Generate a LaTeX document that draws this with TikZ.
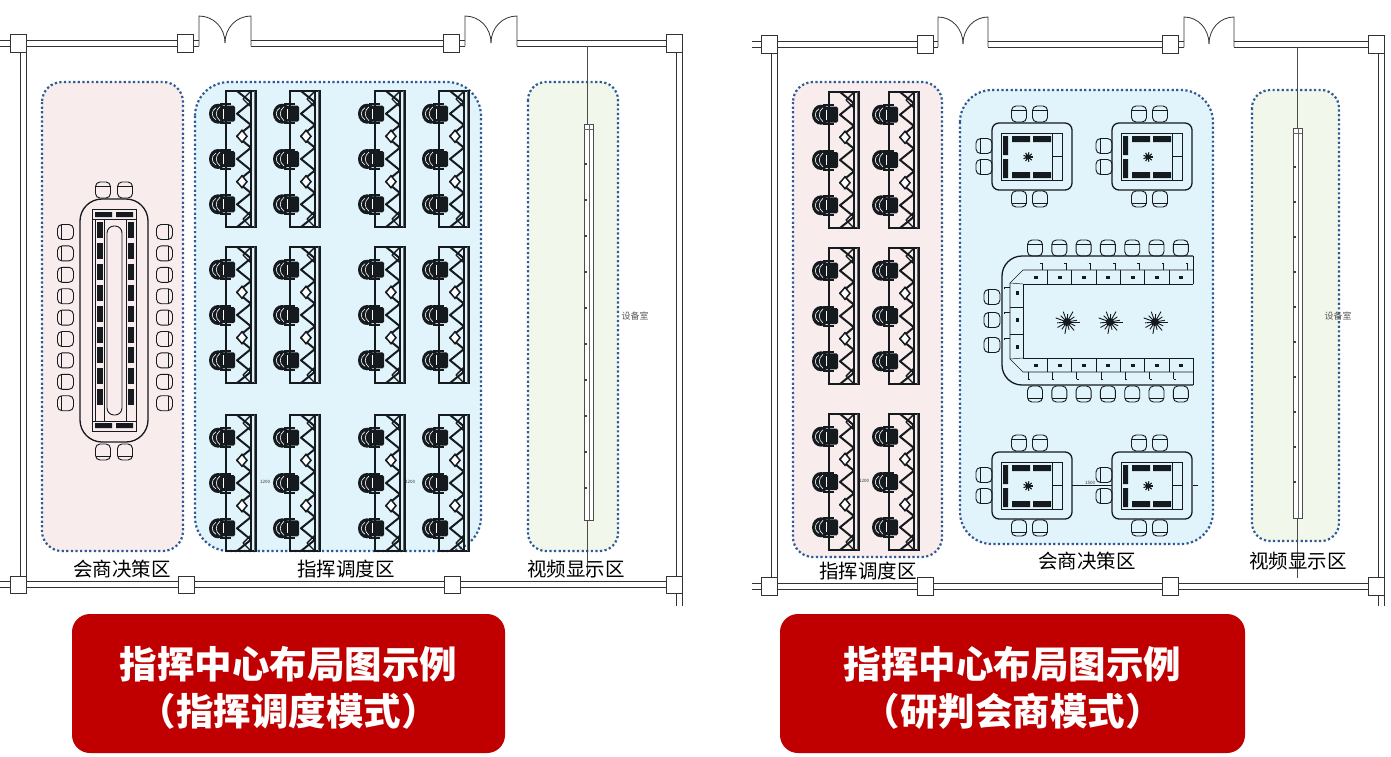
\documentclass[tikz,border=0pt]{standalone}
\usepackage{fontspec}
\newfontfamily\cjk{Noto Sans CJK SC}
\definecolor{zpink}{HTML}{F9ECEC}
\definecolor{zblue}{HTML}{E2F4FB}
\definecolor{zgreen}{HTML}{F1F7EB}
\definecolor{zdot}{HTML}{2F5A96}
\definecolor{bred}{HTML}{C00000}
\definecolor{ink}{HTML}{141A1E}
\tikzset{
  wl/.style={line width=0.8pt, draw=black!80},
  zone/.style={draw=zdot, line width=2.2pt, dash pattern=on 2.2pt off 2.4pt},
  zlabel/.style={font=\cjk\fontsize{19.5}{20}\selectfont, inner sep=0pt},
  tinylbl/.style={font=\cjk\fontsize{4.5}{5}\selectfont, inner sep=0pt, text=black!80},
  roomlbl/.style={font=\cjk\fontsize{9}{10}\selectfont, inner sep=0pt, text=black!65},
  btext/.style={text=white, align=center, font=\cjk\bfseries\fontsize{37.5}{47}\selectfont, inner sep=0pt},
  banner/.style={fill=bred, rounded corners=18pt, inner sep=0pt},
  door/.pic={
    \draw[wl] (0,3) -- (0,-27) .. controls (14.4,-27) and (26,-15.4) .. (26,0);
    \draw[wl] (52,3) -- (52,-27) .. controls (37.6,-27) and (26,-15.4) .. (26,0);
  },
  chairO/.pic={
    \draw[line width=0.9pt, draw=ink, rounded corners=4.5pt] (-7.5,-8) rectangle (7.5,8);
    \draw[line width=0.6pt, draw=ink] (-7.5,-4) -- (7.5,-4);
  },
  ochair/.pic={
    \fill[ink] (-8,0) ellipse (9 and 10);
    \draw[white, line width=0.6pt] (-10,-6) .. controls (-15,-3) and (-15,3) .. (-10,6);
    \draw[white, line width=0.6pt] (-6,-7) .. controls (-11,-3) and (-11,3) .. (-6,7);
    \fill[ink, rounded corners=1.5pt] (-4,-8) rectangle (9,8);
    \fill[ink] (-6,-10.5) rectangle (5,-8.5);
    \fill[ink] (-6,8.5) rectangle (5,10.5);
    \draw[white, line width=0.5pt] (-3,-5) -- (-3,5);
  },
  deskunit/.pic={
    \draw[line width=1.1pt, draw=ink] (0,0) rectangle (30,136);
    \draw[line width=2pt, draw=ink, line join=round] (11,0) -- (25,11.3) -- (11,22.7) -- (25,34) -- (11,45.3) -- (25,56.7) -- (11,68) -- (25,79.3) -- (11,90.7) -- (25,102) -- (11,113.3) -- (25,124.7) -- (11,136);
    \draw[line width=1.4pt, draw=ink, line join=round] (25,0) -- (17,8) -- (25,16) (25,120) -- (17,128) -- (25,136);
    \draw[line width=2pt, draw=ink] (25,0) -- (25,136) (11,0) -- (25,0) (11,136) -- (25,136);
    \draw[line width=0.6pt, draw=black!60] (28,0) -- (28,136);
    \foreach \d in {45.3,90.7} \filldraw[fill=white, draw=ink, line width=1.5pt] (16,\d-6) -- (21,\d) -- (16,\d+6) -- (11,\d) -- cycle;
    \foreach \c in {22.7,68,113.3} \path (0,\c) pic {ochair};
  },
  plantS/.pic={
    \foreach \a in {0,40,...,320} \draw[ink, line width=1.1pt] (0,0) -- (\a:4.8);
    \fill[ink] (0,0) circle (2.6);
  },
  plantL/.pic={
    \foreach \a/\rr in {0/13,25/9,50/11,75/8,100/12,125/9,150/11,175/10,200/12,225/9,250/11,275/8,300/12,325/9,350/10}
      \draw[ink, line width=0.9pt] (0,0) -- (\a:\rr);
    \fill[ink] (0,0) circle (4);
  },
  sqtable/.pic={
    \draw[line width=1.3pt, draw=ink, rounded corners=7pt] (0,0) rectangle (80,67);
    \draw[line width=0.7pt, draw=ink] (9,10) rectangle (70,57);
    \draw[line width=0.5pt, draw=ink] (60,10) -- (60,57) (60,33.5) -- (70,33.5);
    \fill[ink] (11,13) rectangle (16,32) (11,36) rectangle (16,55);
    \fill[ink] (20,13) rectangle (38,19) (41,13) rectangle (59,19);
    \fill[ink] (20,49) rectangle (38,55) (41,49) rectangle (59,55);
    \path (36,34) pic {plantS};
    \path (27,-9) pic {chairO};
    \path (48,-9) pic {chairO};
    \path (27,76) pic[rotate=180] {chairO};
    \path (48,76) pic[rotate=180] {chairO};
    \path (-8,23) pic[rotate=90] {chairO};
    \path (-8,44) pic[rotate=90] {chairO};
  },
}
\begin{document}
\begin{tikzpicture}[x=1pt,y=-1pt]
\useasboundingbox (0,0) rectangle (1391,756);
\fill[white] (0,0) rectangle (1391,756);

% ---------------- zones
\filldraw[zone, fill=zpink, rounded corners=20pt] (42,82) rectangle (183,551);
\filldraw[zone, fill=zblue, rounded corners=34pt] (195,82) rectangle (481,551);
\filldraw[zone, fill=zgreen, rounded corners=18pt] (528,82) rectangle (618,551);
\filldraw[zone, fill=zpink, rounded corners=20pt] (793,82) rectangle (942,557);
\filldraw[zone, fill=zblue, rounded corners=32pt] (960,90) rectangle (1213,544);
\filldraw[zone, fill=zgreen, rounded corners=18pt] (1252,90) rectangle (1339,541);

% ---------------- left panel walls
\draw[wl] (0,40) -- (199,40) (0,46) -- (199,46);
\draw[wl] (251,40) -- (465,40) (251,46) -- (465,46);
\draw[wl] (517,40) -- (682,40) (517,46) -- (682,46);
\path (199,43) pic {door};
\path (465,43) pic {door};
\draw[wl] (20,52) -- (20,577) (26,52) -- (26,577);
\draw[wl] (676,52) -- (676,606) (682,52) -- (682,606);
\draw[wl] (0,581) -- (682,581) (0,587) -- (682,587);
\foreach \x in {18,185,451,674} \filldraw[wl, fill=white] (\x-8,34) rectangle (\x+8,52);
\foreach \x in {18,186,452,674} \filldraw[wl, fill=white] (\x-8,576) rectangle (\x+8,593);

% ---------------- right panel walls
\draw[wl] (752,41) -- (938,41) (752,47) -- (938,47);
\draw[wl] (988,41) -- (1184,41) (988,47) -- (1184,47);
\draw[wl] (1234,41) -- (1384,41) (1234,47) -- (1384,47);
\path (938,44) pic[xscale=0.9615] {door};
\path (1184,44) pic[xscale=0.9615] {door};
\draw[wl] (771,53) -- (771,578) (777,53) -- (777,578);
\draw[wl] (1378,53) -- (1378,606) (1384,53) -- (1384,606);
\draw[wl] (752,583) -- (1384,583) (752,589) -- (1384,589);
\foreach \x in {769,925,1170,1376} \filldraw[wl, fill=white] (\x-8,35) rectangle (\x+8,53);
\foreach \x in {769,925,1170,1376} \filldraw[wl, fill=white] (\x-8,577) rectangle (\x+8,595);

% ---------------- screens
\draw[line width=0.7pt, draw=black!70] (587,46) -- (587,577);
\filldraw[line width=0.7pt, draw=black!70, fill=white] (584,124) rectangle (593,520);
\draw[line width=0.5pt, draw=black!60] (589,124) -- (589,520) (584,129) -- (593,129);
\foreach \y in {163,199,...,487} \fill[black!75] (584,\y) rectangle (586.5,\y+2);
\node[roomlbl] (roomL) at (635,316) {设备室};

\draw[line width=0.7pt, draw=black!70] (1297,47) -- (1297,578);
\filldraw[line width=0.7pt, draw=black!70, fill=white] (1293,128) rectangle (1302,518);
\draw[line width=0.5pt, draw=black!60] (1298.5,128) -- (1298.5,518) (1293,133) -- (1302,133);
\foreach \y in {166,201,...,490} \fill[black!75] (1293,\y) rectangle (1295.5,\y+2);
\node[roomlbl] (roomR) at (1338,316) {设备室};

% ---------------- left conference table
\draw[line width=1.3pt, draw=ink, rounded corners=22pt] (80,199) rectangle (148,442);
\draw[line width=0.8pt, draw=ink] (92,209) rectangle (136,431);
\draw[line width=0.5pt, draw=ink] (92,219) -- (136,219) (92,421) -- (136,421);
\fill[ink] (95,212) rectangle (112,217) (116,212) rectangle (133,217) (95,423) rectangle (112,428) (116,423) rectangle (133,428);
\draw[line width=0.5pt, draw=ink] (95,219) -- (95,421) (104,219) -- (104,421) (126,219) -- (126,421);
\draw[line width=0.9pt, draw=ink, rounded corners=7pt] (107,226) rectangle (122,415);
\foreach \i in {0,...,8} {
  \fill[ink] (96.5,{222+20.9*\i}) rectangle (102.5,{238+20.9*\i});
  \fill[ink] (127.5,{222+20.9*\i}) rectangle (133.5,{238+20.9*\i});
  \path (65.5,{232+21.4*\i}) pic[rotate=90] {chairO};
  \path (164.5,{232+21.4*\i}) pic[rotate=-90] {chairO};
}
\path (103,190) pic {chairO};
\path (125,190) pic {chairO};
\path (103,452) pic[rotate=180] {chairO};
\path (125,452) pic[rotate=180] {chairO};

% ---------------- desks
\foreach \dx in {226,290,375,439} \foreach \dy in {91,247,415} \path (\dx,\dy) pic {deskunit};
\foreach \dx in {829,889} \foreach \dy in {92,248,414} \path (\dx,\dy) pic {deskunit};
\node[tinylbl] (d1) at (265,482) {1200};
\node[tinylbl] (d2) at (410,482) {1200};
\node[tinylbl] (d3) at (864,481) {1200};

% ---------------- right blue zone: square tables
\path (992,123) pic {sqtable};
\path (1112,123) pic {sqtable};
\path (992,452) pic {sqtable};
\path (1112,452) pic {sqtable};
\draw[line width=0.5pt, draw=ink] (1072,485) -- (1112,485) (1193,485) -- (1198,485);
\node[tinylbl, fill=zblue] (d4) at (1090,483) {1500};

% ---------------- U table
\draw[line width=1.3pt, draw=ink, rounded corners=20pt] (1193,256) -- (1002,256) -- (1002,385) -- (1193,385);
\draw[line width=1pt, draw=ink] (1193,256) -- (1193,284) (1193,358) -- (1193,385);
\draw[line width=1pt, draw=ink] (1193,284) -- (1023,284) -- (1023,358) -- (1193,358);
\draw[line width=0.6pt, draw=ink] (1193,270) -- (1023,270) -- (1010,283) -- (1010,359) -- (1023,372) -- (1193,372);
\draw[line width=0.5pt, draw=ink] (1010,283) -- (1023,284) (1010,359) -- (1023,358);
\foreach \i in {1,...,6} \draw[line width=0.5pt, draw=ink] ({1023+24.3*\i},270) -- ({1023+24.3*\i},284) ({1023+24.3*\i},358) -- ({1023+24.3*\i},372);
\draw[line width=0.5pt, draw=ink] (1010,307) -- (1023,307) (1010,334) -- (1023,334);
\foreach \i in {0,...,6} {
  \fill[ink] ({1033.5+24.3*\i},275.5) rectangle ({1037.5+24.3*\i},278.5);
  \fill[ink] ({1033.5+24.3*\i},363.5) rectangle ({1037.5+24.3*\i},366.5);
  \draw[line width=0.8pt, draw=ink] ({1042+24.3*\i},263) -- ({1042+24.3*\i},270) ({1040+24.3*\i},263) -- ({1042+24.3*\i},263);
  \draw[line width=0.8pt, draw=ink] ({1028+24.3*\i},372) -- ({1028+24.3*\i},379) ({1028+24.3*\i},379) -- ({1030+24.3*\i},379);
  \path ({1035+24.3*\i},248) pic {chairO};
  \path ({1035+24.3*\i},394) pic[rotate=180] {chairO};
}
\foreach \y in {293,320,347} \fill[ink] (1015.5,\y-2) rectangle (1018.5,\y+2);
\foreach \y in {287,312,338} \draw[line width=0.8pt, draw=ink] (1004,\y) -- (1010,\y) (1004,\y) -- (1004,\y+2);
\foreach \y in {297,320,345} \path (992,\y) pic[rotate=90] {chairO};
\path (1067,322) pic {plantL};
\path (1110,322) pic {plantL};
\path (1155,322) pic {plantL};

% ---------------- zone labels
\node[zlabel] (lbl1) at (122,569) {会商决策区};
\node[zlabel] (lbl2) at (346,569) {指挥调度区};
\node[zlabel] (lbl3) at (576,569) {视频显示区};
\node[zlabel] (lbl4) at (868,571) {指挥调度区};
\node[zlabel] (lbl5) at (1087,561) {会商决策区};
\node[zlabel] (lbl6) at (1298,561) {视频显示区};

% ---------------- banners
\node[banner, minimum width=433pt, minimum height=139pt] (bannerL) at (288.5,683.5) {};
\node[banner, minimum width=465pt, minimum height=139pt] (bannerR) at (1012.5,683.5) {};
\node[btext] (tL) at (288.5,688) {指挥中心布局图示例\\（指挥调度模式）};
\node[btext] (tR) at (1012.5,688) {指挥中心布局图示例\\（研判会商模式）};
\end{tikzpicture}
\end{document}
